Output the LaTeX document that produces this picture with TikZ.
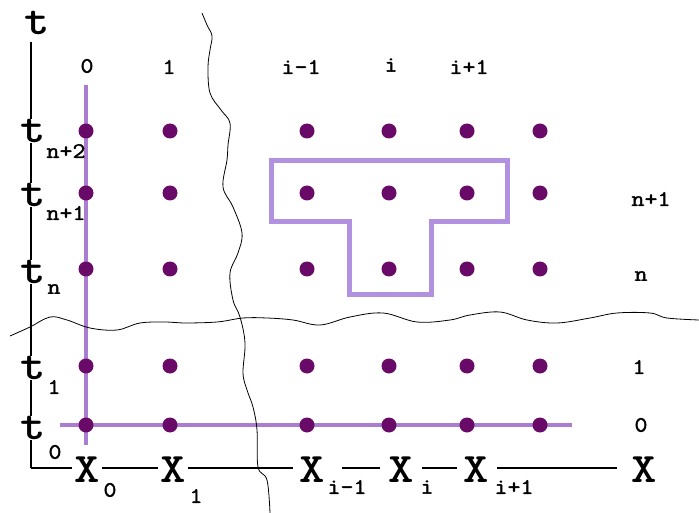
\documentclass[tikz,border=0pt]{standalone}
\usepackage{fontspec}
\usepackage{graphicx}
\newfontfamily\courS{Latin Modern Mono}[FakeBold=1.6]
\definecolor{dotc}{RGB}{105,10,105}
\definecolor{axp}{RGB}{170,125,210}
\definecolor{tlav}{RGB}{178,145,225}
\newcommand{\wide}[1]{\scalebox{1.15}[1]{#1}}
\tikzset{
  big/.style={inner sep=0pt,font=\ttfamily\bfseries\fontsize{42}{42}\selectfont},
  bigw/.style={big,fill=white},
  small/.style={inner sep=0pt,font=\courS\fontsize{22}{22}\selectfont},
  dotn/.style={circle,fill=dotc,inner sep=0pt,minimum size=15pt},
  wave/.style={black,line width=0.8pt},
  axis/.style={black,line width=1.3pt},
}
\begin{document}
\begin{tikzpicture}[x=1pt,y=-1pt]
\useasboundingbox[fill=white] (0,0) rectangle (699,513);
% purple axes
\draw[axp,line width=4pt] (86,85) -- (86,445);
\draw[axp,line width=4pt] (60,425) -- (572,425);
% T outline
\draw[tlav,line width=5pt,line join=miter]
  (271,161) -- (507,161) -- (507,222) -- (431,222) -- (431,294) -- (349,294) -- (349,222) -- (271,222) -- cycle;
% wavy lines
\draw[wave] plot[smooth,tension=0.6] coordinates {(202,13) (207,25) (212,36) (210,50) (208,67) (210,93) (221,110) (230,123) (228,145) (227,160) (223,187) (233,207) (242,233) (238,253) (230,273) (233,300) (240,317) (245,343) (243,373) (247,390) (253,407) (257,430) (258,467) (267,480) (270,513)};
\draw[wave] plot[smooth,tension=0.6] coordinates {(10,336) (30,327) (50,317) (67,320) (90,328) (117,330) (140,323) (167,322) (183,323) (217,322) (243,318) (267,318) (293,320) (320,325) (350,317) (383,313) (417,322) (450,320) (470,315) (500,312) (527,320) (557,323) (590,318) (617,313) (650,313) (667,318) (699,320)};
% dots
\foreach \c/\x in {0/86,1/170,2/307,3/389,4/467,5/540}{
  \foreach \r/\y in {a/131,b/193,c/269,d/366,e/425}{
    \node[dotn] (d\c\r) at (\x,\y) {};
  }
}
% vertical axis
\coordinate (top) at (31,42);
\coordinate (corner) at (31,468);
\draw[axis] (top) -- (corner);
% t labels
\node[bigw] (t) at (37,23) {\wide{t}};
\node[bigw] (tn2) at (33,131) {\wide{t}};
\node[bigw] (tn1) at (33,195) {\wide{t}};
\node[bigw] (tn) at (33,272) {\wide{t}};
\node[bigw] (t1) at (33,368) {\wide{t}};
\node[bigw] (t0) at (33,428) {\wide{t}};
\node[small] (stn2) at (66,151) {\wide{n+2}};
\node[small] (stn1) at (66,213) {\wide{n+1}};
\node[small] (stn) at (54,289) {\wide{n}};
\node[small] (st1) at (54,387) {\wide{1}};
\node[small] (st0) at (55,452) {\wide{0}};
% X labels
\node[big] (X0) at (87,470) {\wide{X}};
\node[big] (X1) at (173,470) {\wide{X}};
\node[big] (Xim) at (312,470) {\wide{X}};
\node[big] (Xi) at (401,470) {\wide{X}};
\node[big] (Xip) at (476,470) {\wide{X}};
\node[big] (X) at (644,470) {\wide{X}};
\node[small] (sX0) at (110,490) {\wide{0}};
\node[small] (sX1) at (196,496) {\wide{1}};
\node[small] (sXim) at (347,487) {\wide{i-1}};
\node[small] (sXi) at (427,487) {\wide{i}};
\node[small] (sXip) at (514,487) {\wide{i+1}};
% horizontal axis segments
\coordinate (h0) at (72,468);
\coordinate (h1a) at (102,468); \coordinate (h1b) at (158,468);
\coordinate (h2a) at (188,468); \coordinate (h2b) at (293,468);
\coordinate (h3a) at (342,468); \coordinate (h3b) at (380,468);
\coordinate (h4a) at (422,468); \coordinate (h4b) at (457,468);
\coordinate (h5a) at (497,468); \coordinate (h5b) at (617,468);
\draw[axis] (corner) -- (h0);
\draw[axis] (h1a) -- (h1b);
\draw[axis] (h2a) -- (h2b);
\draw[axis] (h3a) -- (h3b);
\draw[axis] (h4a) -- (h4b);
\draw[axis] (h5a) -- (h5b);
% column labels
\node[small] (c0) at (87,66) {\wide{0}};
\node[small] (c1) at (169,67) {\wide{1}};
\node[small] (cim) at (301,67) {\wide{i-1}};
\node[small] (ci) at (391,65) {\wide{i}};
\node[small] (cip) at (469,67) {\wide{i+1}};
% row labels
\node[small] (rn1) at (651,199) {\wide{n+1}};
\node[small] (rn) at (641,276) {\wide{n}};
\node[small] (r1) at (639,367) {\wide{1}};
\node[small] (r0) at (641,425) {\wide{0}};
\end{tikzpicture}
\end{document}
